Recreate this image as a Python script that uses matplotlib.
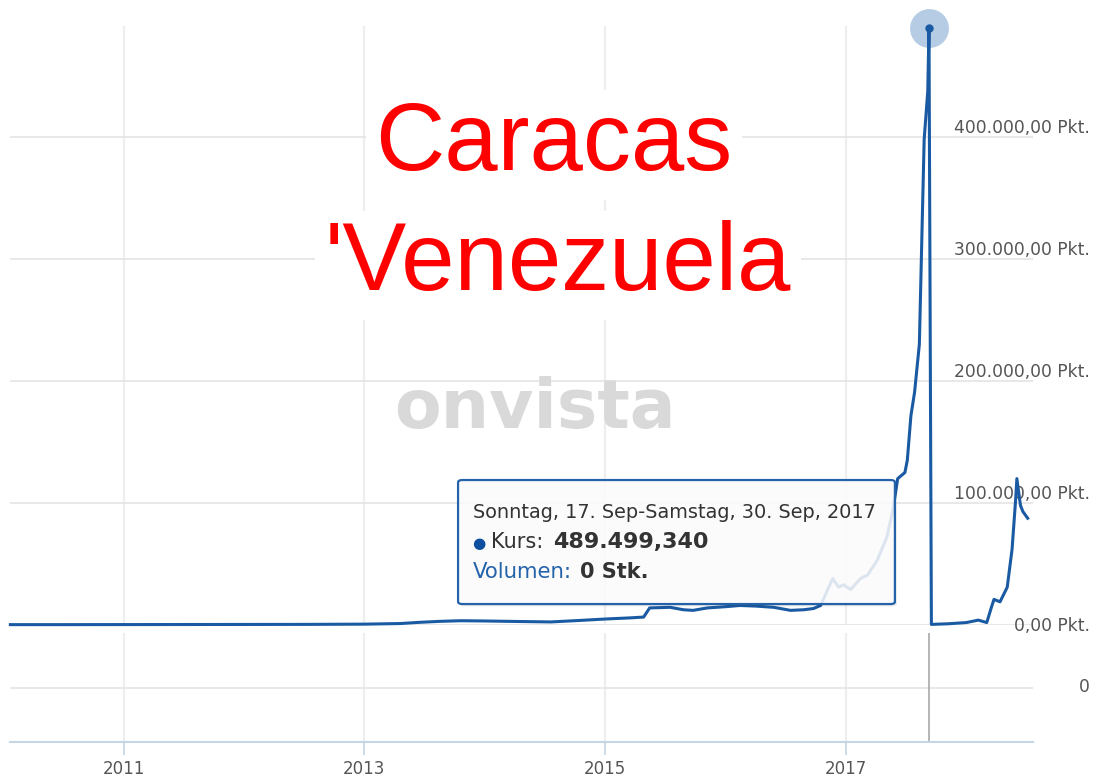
import matplotlib
matplotlib.use("Agg")
import matplotlib.pyplot as plt
from matplotlib.patches import FancyBboxPatch

# Kurs (Pkt.) over decimal years
years = [
    2010.06, 2010.5, 2011.0, 2011.5, 2012.0, 2012.5, 2013.0, 2013.3, 2013.46,
    2013.63, 2013.8, 2014.0, 2014.19, 2014.55, 2014.8, 2015.02, 2015.2, 2015.32,
    2015.37, 2015.54, 2015.65, 2015.73, 2015.85, 2016.0, 2016.12, 2016.25, 2016.4,
    2016.54, 2016.65, 2016.73, 2016.79, 2016.89, 2016.94, 2016.98, 2017.04,
    2017.12, 2017.18, 2017.26, 2017.34, 2017.39, 2017.43, 2017.49, 2017.51,
    2017.54, 2017.57, 2017.61, 2017.65, 2017.68, 2017.69, 2017.71, 2017.85,
    2018.0, 2018.1, 2018.17, 2018.21, 2018.23, 2018.28, 2018.34, 2018.38,
    2018.41, 2018.42, 2018.45, 2018.47, 2018.51,
]
kurs = [
    300, 300, 350, 400, 450, 500, 700, 1200, 2200,
    3000, 3500, 3300, 3000, 2500, 3800, 5000, 5800, 6500,
    14000, 14500, 12500, 12000, 14000, 15000, 16000, 15500, 14500,
    12000, 12500, 13500, 16000, 38000, 31000, 33000, 29000,
    38000, 41000, 53000, 72000, 94000, 120000, 125000, 135000,
    171600, 190500, 230000, 398000, 437700, 489499.34, 500, 1000,
    2000, 4000, 2000, 15000, 21000, 19000, 31000, 62000,
    103000, 120000, 98000, 93000, 87500,
]

year_ticks = [2011, 2013, 2015, 2017]
kurs_ticks = [0, 100000, 200000, 300000, 400000]
kurs_labels = ["0,00 Pkt.", "100.000,00 Pkt.", "200.000,00 Pkt.", "300.000,00 Pkt.", "400.000,00 Pkt."]

LINE = "#1a5aa3"
GRID = "#e4e4e4"
LABEL = "#555555"
W, H = 1097, 780

fig = plt.figure(figsize=(W / 100, H / 100), dpi=100)
ax = fig.add_axes([10 / W, (H - 625) / H, 1023 / W, 599 / H])
ax2 = fig.add_axes([10 / W, (H - 742) / H, 1023 / W, 109 / H], sharex=ax)

xlim = (2010.057, 2018.554)

# main price pane
ax.set_xlim(*xlim)
ax.set_ylim(0, 491000)
for s in ax.spines.values():
    s.set_visible(False)
ax.set_xticks(year_ticks)
ax.set_yticks(kurs_ticks)
ax.tick_params(length=0, labelbottom=False, labelleft=False)
ax.grid(axis="y", color=GRID, lw=1.2)
ax.grid(axis="x", color="#eeeeee", lw=1.6)
ax.set_axisbelow(True)

for v, lab in zip(kurs_ticks, kurs_labels):
    dy = -1 if v == 0 else 4
    va = "center" if v == 0 else "baseline"
    ax.annotate(lab, xy=(1, v), xycoords=("axes fraction", "data"),
                xytext=(57, dy), textcoords="offset pixels",
                ha="right", va=va, fontsize=12.3, color=LABEL, annotation_clip=False)

# watermark
ax.text(0.513, 0.329, "onvista", transform=ax.transAxes, ha="center", va="baseline",
        fontsize=49, fontfamily="DejaVu Sans", fontweight="bold", color="#d9d9d9", zorder=1)

ax.plot(years, kurs, color=LINE, lw=2.2, clip_on=False, zorder=3)

peak = kurs.index(max(kurs))
ax.plot(years[peak], kurs[peak], "o", ms=28, color="#b5cce4", mec="none",
        clip_on=False, zorder=2.5)
ax.plot(years[peak], kurs[peak], "o", ms=5, color=LINE, clip_on=False, zorder=4)

# red overlay text
for txt, x, y in [("Caracas", 0.532, 0.7596), ("'Venezuela", 0.5357, 0.559)]:
    ax.text(x, y, txt, transform=ax.transAxes, ha="center", va="baseline",
            fontsize=69, fontfamily="Liberation Sans", color="#ff0000", zorder=6,
            bbox=dict(boxstyle="square,pad=0.1", fc="white", ec="none"))

# tooltip
shadow = FancyBboxPatch((0.440, 0.031), 0.427, 0.208, transform=ax.transAxes,
                        boxstyle="round,pad=0,rounding_size=0.004",
                        fc="#000000", ec="none", alpha=0.08, zorder=4.5)
ax.add_patch(shadow)
box = FancyBboxPatch((0.438, 0.035), 0.427, 0.207, transform=ax.transAxes,
                     boxstyle="round,pad=0,rounding_size=0.004",
                     fc="white", ec="none", alpha=0.85, zorder=5)
ax.add_patch(box)
box_edge = FancyBboxPatch((0.438, 0.035), 0.427, 0.207, transform=ax.transAxes,
                          boxstyle="round,pad=0,rounding_size=0.004",
                          fc="none", ec="#2462aa", lw=1.6, zorder=5.1)
ax.add_patch(box_edge)

ax.text(0.4526, 0.1786, "Sonntag, 17. Sep-Samstag, 30. Sep, 2017", transform=ax.transAxes,
        fontsize=13.9, color="#333333", va="baseline", zorder=6)
t1 = ax.text(0.4526, 0.129, "\u25cf ", transform=ax.transAxes, fontsize=11,
             color="#0f4fa0", va="baseline", zorder=6)
t2 = ax.annotate("Kurs:", xy=(1, 0), xycoords=t1, xytext=(0, -1), textcoords="offset pixels",
                 fontsize=15, color="#333333", va="bottom", zorder=6)
ax.annotate("489.499,340", xy=(1, 0), xycoords=t2, xytext=(10, 0), textcoords="offset pixels",
            fontsize=16, fontweight="bold", color="#333333", va="bottom", zorder=6)
t3 = ax.text(0.4526, 0.078, "Volumen:", transform=ax.transAxes, fontsize=15.3,
             color="#2462aa", va="baseline", zorder=6)
ax.annotate("0 Stk.", xy=(1, 0), xycoords=t3, xytext=(8, 0), textcoords="offset pixels",
            fontsize=15, fontweight="bold", color="#333333", va="bottom", zorder=6)

# volume pane
ax2.set_ylim(-1, 1)
for name, s in ax2.spines.items():
    s.set_visible(name == "bottom")
ax2.spines["bottom"].set_color("#c5d5e6")
ax2.spines["bottom"].set_linewidth(1.5)
ax2.set_yticks([0])
ax2.set_yticklabels([])
ax2.grid(axis="y", color=GRID, lw=1.2)
ax2.grid(axis="x", color="#eeeeee", lw=1.6)
ax2.set_axisbelow(True)
ax2.tick_params(axis="y", length=0)
ax2.tick_params(axis="x", length=9, width=1.2, color="#c5d5e6", labelsize=12,
                labelcolor=LABEL, pad=4)
ax2.set_xticks(year_ticks)
ax2.set_xticklabels([str(y) for y in year_ticks])
ax2.annotate("0", xy=(1, 0), xycoords=("axes fraction", "data"), xytext=(57, 0),
             textcoords="offset pixels", ha="right", va="center", fontsize=12.3,
             color=LABEL, annotation_clip=False)
ax2.axvline(years[peak], color="#a8a8a8", lw=1.2)

fig.savefig("out.png", dpi=100, facecolor="white")
